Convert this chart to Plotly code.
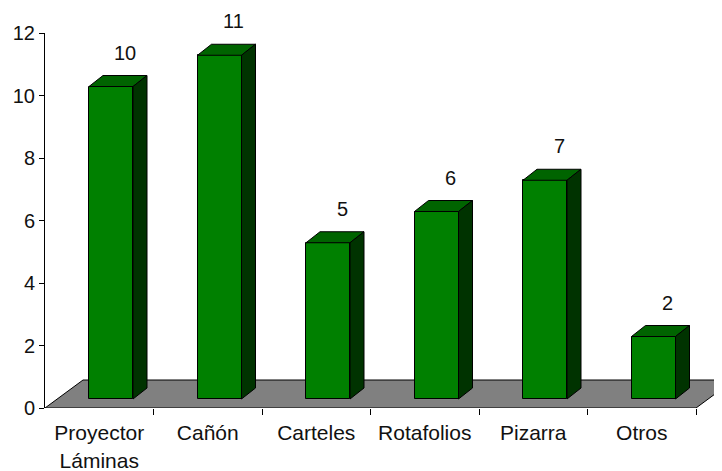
import plotly.graph_objects as go

categories = ["Proyector<br>Láminas", "Cañón", "Carteles", "Rotafolios", "Pizarra", "Otros"]
values = [10, 11, 5, 6, 7, 2]
y_ticks = [0, 2, 4, 6, 8, 10, 12]

# geometry (style) constants in axis units
px_x = 108.5   # px per category
px_y = 31.25   # px per y unit
floor_dx, floor_dy = 38 / px_x, 28 / px_y
bar_base = 9 / px_y
bar_off = -0.0945
bar_w = 44 / px_x
side_dx, side_dy = 14 / px_x, 11 / px_y

FRONT = "#008000"
TOP = "#006400"
SIDE = "#003300"

idx = list(range(len(categories)))
n = len(categories)

fig = go.Figure()

shapes = []
# floor
x0f, x1f = -0.5, n - 0.5
shapes.append(dict(
    type="path", xref="x", yref="y", layer="below",
    path=f"M{x0f},0 L{x1f},0 L{x1f+floor_dx},{floor_dy} L{x0f+floor_dx},{floor_dy} Z",
    fillcolor="#808080", line=dict(color="black", width=1)))

fig.add_trace(go.Bar(
    x=idx, y=values, base=bar_base, width=bar_w, offset=bar_off,
    marker=dict(color=FRONT, line=dict(color="black", width=1)),
    hoverinfo="skip", showlegend=False))

for i, v in zip(idx, values):
    a = i + bar_off
    b = a + bar_w
    top = v + bar_base
    shapes.append(dict(
        type="path", xref="x", yref="y",
        path=f"M{a},{top} L{b},{top} L{b+side_dx},{top+side_dy} L{a+side_dx},{top+side_dy} Z",
        fillcolor=TOP, line=dict(color="black", width=1)))
    shapes.append(dict(
        type="path", xref="x", yref="y",
        path=f"M{b},{bar_base} L{b+side_dx},{bar_base+side_dy} L{b+side_dx},{top+side_dy} L{b},{top} Z",
        fillcolor=SIDE, line=dict(color="black", width=1)))

# value labels: anchored at the back top edge of each bar, lifted by a pixel shift
annotations = []
for i, v in zip(idx, values):
    annotations.append(dict(
        x=i + bar_off + bar_w / 2 + 0.13,
        y=v + bar_base + side_dy,
        xref="x", yref="y", text=str(v), showarrow=False,
        xanchor="center", yanchor="middle", yshift=23,
        font=dict(size=20, color="#111111", family="Liberation Sans")))

# page body has an 8px margin; paper is sized so the plot area lands where intended
W, H = 714, 463
right_px = 722 - 45
x_range = [-0.5, -0.5 + right_px / px_x]

fig.update_layout(
    width=W, height=H,
    margin=dict(l=37, r=0, t=25, b=63, autoexpand=False),
    paper_bgcolor="white", plot_bgcolor="white",
    font=dict(family="Liberation Sans", size=20, color="#111111"),
    shapes=shapes,
    annotations=annotations,
    xaxis=dict(range=x_range, showgrid=False, zeroline=False, showline=False,
               tickvals=idx, ticktext=categories, ticks="outside", ticklen=0,
               tickcolor="rgba(0,0,0,0)", tickfont=dict(size=21),
               ticklabelstandoff=6, automargin=False,
               minor=dict(tickvals=[i + 0.5 for i in idx], ticks="outside",
                          ticklen=6, tickcolor="black", tickwidth=1, showgrid=False)),
    yaxis=dict(range=[0, 12], tickvals=y_ticks, showgrid=False, zeroline=False,
               showline=True, linecolor="black", linewidth=1,
               ticks="outside", ticklen=5, tickcolor="black", automargin=False),
    bargap=0,
)

fig.write_html("out.html")
